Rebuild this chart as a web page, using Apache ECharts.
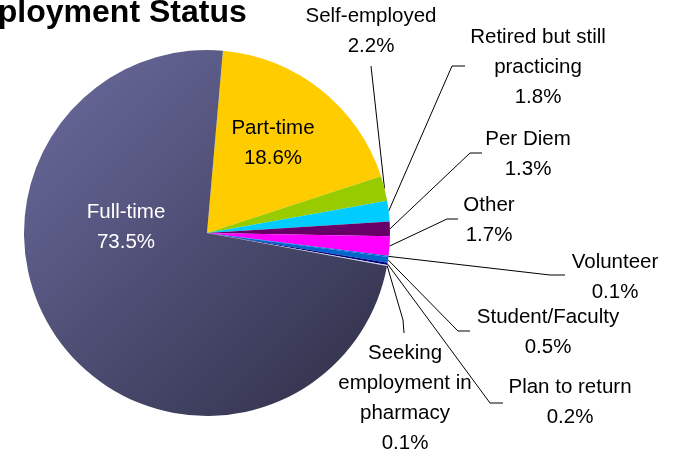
<!DOCTYPE html>
<html lang="en">

<head>
    <meta charset="UTF-8">
    <title>Employment Status</title>
    <script src="https://cdn.jsdelivr.net/npm/echarts@6/dist/echarts.min.js"></script>
    <style>
        html, body { margin: 0; padding: 0; background: #fff; }
        #main { width: 679px; height: 453px; }
    </style>
</head>

<body>
    <div id="main"></div>

    <script>
        // slices, clockwise from the top
        var sliceNames = ['Part-time', 'Self-employed', 'Retired but still\npracticing', 'Per Diem', 'Other',
            'Volunteer', 'Student/Faculty', 'Plan to return', 'Seeking\nemployment in\npharmacy', 'Full-time'];
        var sliceValues = [18.6, 2.2, 1.8, 1.3, 1.7, 0.1, 0.5, 0.2, 0.1, 73.5];

        var sliceColors = ['#FFCC00', '#99CC00', '#00CCFF', '#660066', '#FF00FF',
            '#0066CC', '#0066CC', '#000080', '#D4D4EC',
            new echarts.graphic.LinearGradient(0, 0, 1, 1, [
                { offset: 0, color: '#6C6CA0' },
                { offset: 1, color: '#2E2E46' }
            ])];

        // where each label sits, and the bend / end of its leader line
        var labelSpots = {
            'Part-time': { x: 273, y: 143 },
            'Full-time': { x: 126, y: 227 },
            'Self-employed': { x: 371, y: 31, line: [[371, 66], [371, 66]] },
            'Retired but still\npracticing': { x: 538, y: 67, line: [[452, 66], [465, 66]] },
            'Per Diem': { x: 528, y: 154, line: [[470, 153], [482, 153]] },
            'Other': { x: 489, y: 220, line: [[447, 219], [458, 219]] },
            'Volunteer': { x: 615, y: 277, line: [[550, 275], [565, 275]] },
            'Student/Faculty': { x: 548, y: 332, line: [[458, 331], [470, 331]] },
            'Plan to return': { x: 570, y: 402, line: [[490, 403], [503, 403]] },
            'Seeking\nemployment in\npharmacy': { x: 405, y: 398, line: [[403, 320], [404, 333]] }
        };

        var chart = echarts.init(document.getElementById('main'), null, { renderer: 'canvas' });

        var pieData = sliceNames.map(function (name, i) {
            var item = {
                name: name,
                value: sliceValues[i],
                itemStyle: { color: sliceColors[i] }
            };
            if (name === 'Full-time' || name === 'Part-time') {
                item.label = { position: 'inside', color: name === 'Full-time' ? '#fff' : '#000' };
                item.labelLine = { show: false };
            }
            return item;
        });

        var option = {
            animation: false,
            title: {
                text: 'Employment Status',
                left: -52,
                top: -3,
                padding: 0,
                textStyle: {
                    fontFamily: 'Liberation Sans',
                    fontSize: 32,
                    fontWeight: 'bold',
                    color: '#000'
                }
            },
            series: [{
                type: 'pie',
                center: [207, 233],
                radius: 183,
                startAngle: 85,
                clockwise: true,
                avoidLabelOverlap: false,
                silent: true,
                emphasis: { disabled: true },
                itemStyle: { borderWidth: 0 },
                label: {
                    show: true,
                    position: 'outside',
                    formatter: function (p) {
                        return p.name + '\n' + p.value.toFixed(1) + '%';
                    },
                    fontFamily: 'Liberation Sans',
                    fontSize: 20.5,
                    lineHeight: 30,
                    color: '#000',
                    align: 'center'
                },
                labelLine: {
                    show: true,
                    length: 10,
                    length2: 10,
                    smooth: false,
                    lineStyle: { color: '#000', width: 1 }
                },
                labelLayout: function (params) {
                    var name = sliceNames[params.dataIndex];
                    var spot = labelSpots[name];
                    var res = { x: spot.x, y: spot.y, align: 'center', verticalAlign: 'middle' };
                    if (spot.line && params.labelLinePoints) {
                        var start = params.labelLinePoints[0];
                        res.labelLinePoints = [start, spot.line[0], spot.line[1]];
                    }
                    return res;
                },
                data: pieData
            }]
        };

        chart.setOption(option);
    </script>

</body>

</html>
